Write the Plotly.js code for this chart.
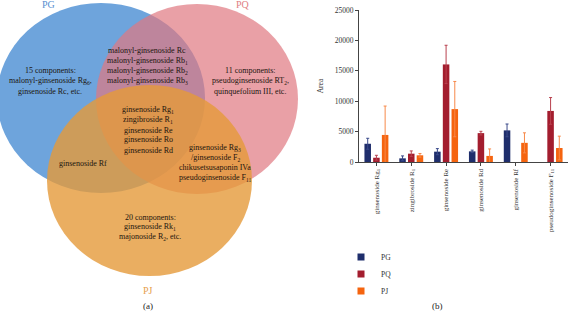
<!DOCTYPE html>
<html>
<head>
<meta charset="utf-8">
<script src="https://cdn.plot.ly/plotly-3.0.1.min.js"></script>
<style>html,body{margin:0;padding:0;background:#fff;}#chart{width:569px;height:316px;}</style>
</head>
<body>
<div id="chart"></div>
<script>
// ---- Data (bar chart) ----
const categories = ["ginsenoside Rg<sub>1</sub>", "zingibroside R<sub>1</sub>", "ginsenoside Re", "ginsenoside Rd", "ginsenoside Rf", "pseudoginsenoside F<sub>11</sub>"];
const seriesNames = ["PG", "PQ", "PJ"];
const pgValues = [3000, 600, 1700, 1750, 5200, null];
const pgErrors = [900, 400, 500, 200, 1050, null];
const pqValues = [700, 1370, 16050, 4750, null, 8400];
const pqErrors = [400, 450, 3150, 300, null, 2200];
const pjValues = [4450, 1100, 8700, 1000, 3150, 2300];
const pjErrors = [4750, 300, 4550, 1150, 1650, 1950];
const yTicks = [0, 5000, 10000, 15000, 20000, 25000];
const yTickLabels = ["0", "5000", "10000", "15000", "20000", "25000"];

// ---- Venn text (set names and region members) ----
const setLabels = ["PG", "PQ", "PJ"];
const onlyPG = ["15 components:", "malonyl-ginsenoside Rg<sub>6</sub>,", "ginsenoside Rc, etc."];
const pgPq = ["malonyl-ginsenoside Rc", "malonyl-ginsenoside Rb<sub>1</sub>", "malonyl-ginsenoside Rb<sub>2</sub>", "malonyl-ginsenoside Rb<sub>3</sub>"];
const onlyPQ = ["11 components:", "pseudoginsenoside RT<sub>2</sub>,", "quinquefolium III, etc."];
const allThree = ["ginsenoside Rg<sub>1</sub>", "zingibroside R<sub>1</sub>", "ginsenoside Re", "ginsenoside Ro", "ginsenoside Rd"];
const pqPj = ["ginsenoside Rg<sub>3</sub>", "/ginsenoside F<sub>2</sub>", "chikusetsusaponin IVa", "pseudoginsenoside F<sub>11</sub>"];
const pgPj = ["ginsenoside Rf"];
const onlyPJ = ["20 components:", "ginsenoside Rk<sub>1</sub>", "majonoside R<sub>2</sub>, etc."];

const W = 569, H = 316;
const FONT = "Liberation Serif, DejaVu Serif, serif";
const colors = ["#1f2e6c", "#a31d2e", "#f5640f"];
const errColors = ["#3a4a8a", "#b8404e", "#f7894a"];
const px = v => v / W;
const py = v => 1 - v / H;

const values = [pgValues, pqValues, pjValues];
const errors = [pgErrors, pqErrors, pjErrors];
const legendIds = ["legend", "legend2", "legend3"];

const traces = [];
seriesNames.forEach((name, i) => {
  traces.push({
    type: "bar", name: name, x: categories, y: values[i],
    marker: {color: colors[i]},
    error_y: {type: "data", array: errors[i], visible: true, color: errColors[i], thickness: 1, width: 1.5},
    showlegend: false, hoverinfo: "skip"
  });
});
// legend-only square markers, one legend box per series
seriesNames.forEach((name, i) => {
  traces.push({
    type: "scatter", mode: "markers", name: name, x: [null], y: [null],
    marker: {symbol: "square", size: 7, color: colors[i]},
    showlegend: true, legend: legendIds[i]
  });
});

// Venn ellipses (pixel boxes)
function ell(x0, x1, y0, y1, color, op) {
  return {type: "circle", xref: "paper", yref: "paper", x0: px(x0), x1: px(x1), y0: py(y1), y1: py(y0),
    fillcolor: color, opacity: op, line: {width: 0}, layer: "below"};
}
const shapes = [
  ell(-3, 205, 3, 193, "#6ea4dc", 1),
  ell(96, 298, 4, 194, "#df7880", 0.7),
  ell(47, 252, 85, 276, "#e59a3a", 0.8)
];

const annotations = [];
function txt(t, x, y, size, color) {
  annotations.push({text: t, xref: "paper", yref: "paper", x: px(x), y: py(y), xanchor: "center", yanchor: "middle",
    showarrow: false, font: {family: FONT, size: size || 8, color: color || "#1c140e"}});
}
function block(lines, cx, y0, dy) {
  lines.forEach((l, k) => txt(l, cx, y0 + k * dy));
}
txt(setLabels[0], 48, 5, 10, "#5a8fd0");
txt(setLabels[1], 243, 5, 10, "#e07e84");
txt(setLabels[2], 148, 290, 10, "#e6a04e");
txt("(a)", 148, 306, 9, "#222");
txt("(b)", 437, 306, 9, "#222");
block(onlyPG, 50, 71, 10);
block(pgPq, 147, 51, 10);
block(onlyPQ, 250, 71, 10);
block(allThree, 148, 110, 10);
block(pqPj, 215, 148, 10);
block(pgPj, 83, 163, 10);
block(onlyPJ, 150, 217, 10);

const legendBase = {x: px(341), xanchor: "left", yanchor: "middle", font: {family: FONT, size: 7.5, color: "#333"},
  itemwidth: 30, bgcolor: "rgba(0,0,0,0)", borderwidth: 0};
const legendRows = [257, 274, 291];

const layout = {
  width: W, height: H,
  margin: {l: 0, r: 0, t: 0, b: 0},
  paper_bgcolor: "#fff", plot_bgcolor: "rgba(0,0,0,0)",
  font: {family: FONT, color: "#333"},
  barmode: "group", bargap: 0.25, bargroupgap: 0.25,
  showlegend: true,
  legend: Object.assign({}, legendBase, {y: py(legendRows[0])}),
  legend2: Object.assign({}, legendBase, {y: py(legendRows[1])}),
  legend3: Object.assign({}, legendBase, {y: py(legendRows[2])}),
  xaxis: {domain: [px(359), px(568)], type: "category", showline: true, linecolor: "#444", linewidth: 1,
    ticks: "outside", ticklen: 3, tickcolor: "#444", tickangle: -90, tickfont: {family: FONT, size: 7, color: "#333"},
    showgrid: false, zeroline: false, fixedrange: true},
  yaxis: {domain: [py(162), py(10)], range: [0, 25000], tickmode: "array", tickvals: yTicks, ticktext: yTickLabels,
    showline: true, linecolor: "#444", linewidth: 1,
    ticks: "outside", ticklen: 3, tickcolor: "#444", tickfont: {family: FONT, size: 7.5, color: "#333"},
    showgrid: false, zeroline: false, title: {text: "Area", font: {family: FONT, size: 7.5, color: "#333"}, standoff: 10}},
  shapes: shapes,
  annotations: annotations
};

Plotly.newPlot("chart", traces, layout, {displayModeBar: false, staticPlot: true});
</script>
</body>
</html>
